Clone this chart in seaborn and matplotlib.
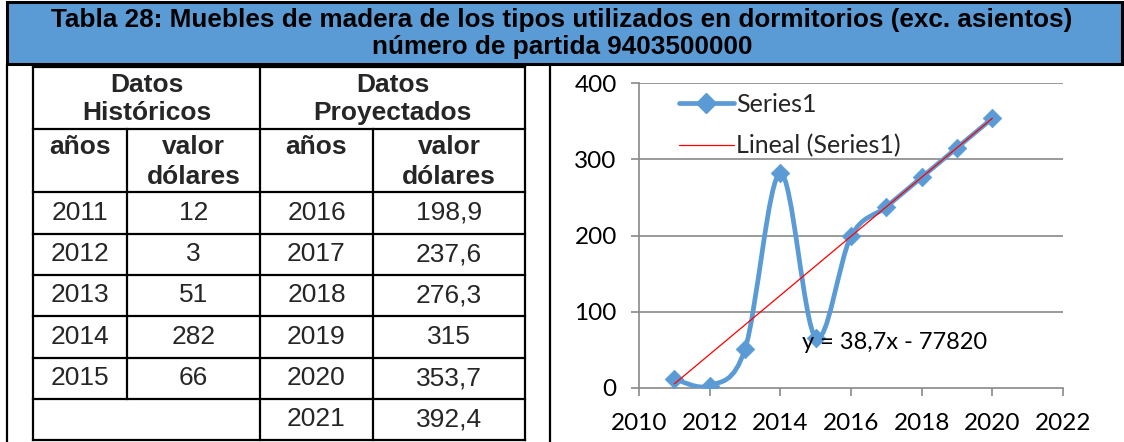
import numpy as np
import pandas as pd
import matplotlib
matplotlib.use("Agg")
import matplotlib.pyplot as plt
from matplotlib.path import Path
from matplotlib.patches import PathPatch, Rectangle
from matplotlib.lines import Line2D
import seaborn as sns

# ---------------- data ----------------
title_lines = ["Tabla 28: Muebles de madera de los tipos utilizados en dormitorios (exc. asientos)",
               "número de partida 9403500000"]
hist_years = [2011, 2012, 2013, 2014, 2015]
hist_values = ["12", "3", "51", "282", "66"]
proj_years = [2016, 2017, 2018, 2019, 2020, 2021]
proj_values = ["198,9", "237,6", "276,3", "315", "353,7", "392,4"]
chart_years = [2011, 2012, 2013, 2014, 2015, 2016, 2017, 2018, 2019, 2020]
chart_values = [12, 3, 51, 282, 66, 198.9, 237.6, 276.3, 315, 353.7]
series_name = "Series1"
trend_name = "Lineal (Series1)"
equation = "y = 38,7x - 77820"
x_ticks = [2010, 2012, 2014, 2016, 2018, 2020, 2022]
y_ticks = [0, 100, 200, 300, 400]

BLUE = "#5B9BD5"
RED = "#FF0000"
GRID = "#898989"

sns.set_theme(style="white")
plt.rcParams["font.family"] = ["Liberation Sans", "DejaVu Sans"]

W, H = 1124, 442
fig = plt.figure(figsize=(W / 100, H / 100), dpi=100)

# background axes in pixel coordinates for frame + table
bg = fig.add_axes([0, 0, 1, 1])
bg.set_xlim(0, W)
bg.set_ylim(H, 0)
bg.axis("off")

# title bar
bg.add_patch(Rectangle((7, 2), 1115, 62, facecolor=BLUE, edgecolor="black", lw=2.2))
bg.text(W / 2, 20, title_lines[0], ha="center", va="center", fontsize=18.8, fontweight="bold", color="black")
bg.text(W / 2, 47, title_lines[1], ha="center", va="center", fontsize=18.8, fontweight="bold", color="black")

# outer cell lines
lk = dict(color="black", lw=1.6, solid_capstyle="butt")
bg.plot([7, 7], [64, H], **lk)
bg.plot([550, 550], [64, H], **lk)

# table grid
xs = [33, 127, 260, 373, 525]
ys = [67, 129, 192, 233.5, 275, 316, 357.5, 399, 440]
tl = dict(color="black", lw=1.6, solid_capstyle="projecting")
for y in ys:
    bg.plot([xs[0], xs[-1]], [y, y], **tl)
bg.plot([xs[0], xs[0]], [ys[0], ys[-1]], **tl)
bg.plot([xs[-1], xs[-1]], [ys[0], ys[-1]], **tl)
bg.plot([xs[2], xs[2]], [ys[0], ys[-1]], **tl)
bg.plot([xs[1], xs[1]], [ys[1], ys[-2]], **tl)
bg.plot([xs[3], xs[3]], [ys[1], ys[-1]], **tl)

fs_t = 19
bg.text((xs[0] + xs[2]) / 2, (ys[0] + ys[1]) / 2 + 1, "Datos\nHistóricos", ha="center", va="center",
        fontsize=fs_t, fontweight="bold", linespacing=1.2)
bg.text((xs[2] + xs[4]) / 2, (ys[0] + ys[1]) / 2 + 1, "Datos\nProyectados", ha="center", va="center",
        fontsize=fs_t, fontweight="bold", linespacing=1.2)
for (a, b), lab in zip([(0, 1), (1, 2), (2, 3), (3, 4)], ["años", "valor\ndólares", "años", "valor\ndólares"]):
    bg.text((xs[a] + xs[b]) / 2, ys[1] + 6, lab, ha="center", va="top",
            fontsize=fs_t, fontweight="bold", linespacing=1.3)
for i, (yr, v) in enumerate(zip(hist_years, hist_values)):
    yc = (ys[2 + i] + ys[3 + i]) / 2
    bg.text((xs[0] + xs[1]) / 2, yc, str(yr), ha="center", va="center", fontsize=fs_t)
    bg.text((xs[1] + xs[2]) / 2, yc, v, ha="center", va="center", fontsize=fs_t)
for i, (yr, v) in enumerate(zip(proj_years, proj_values)):
    yc = (ys[2 + i] + ys[3 + i]) / 2
    bg.text((xs[2] + xs[3]) / 2, yc, str(yr), ha="center", va="center", fontsize=fs_t)
    bg.text((xs[3] + xs[4]) / 2, yc, v, ha="center", va="center", fontsize=fs_t)

# ---------------- chart ----------------
ax_l, ax_r, ax_t, ax_b = 639, 1063, 83, 388
ax = fig.add_axes([ax_l / W, (H - ax_b) / H, (ax_r - ax_l) / W, (ax_b - ax_t) / H])
ax.set_facecolor("none")
cfont = ["Lato", "DejaVu Sans"]

df = pd.DataFrame({"year": chart_years, "value": chart_values})

# smoothed series line (Bezier through the data points)
px = np.array(chart_years, dtype=float)
py = np.array(chart_values, dtype=float)
P = np.column_stack([px, py])
verts = [P[0]]
codes = [Path.MOVETO]
n = len(P)
for i in range(n - 1):
    p0 = P[i - 1] if i > 0 else P[i]
    p1, p2 = P[i], P[i + 1]
    p3 = P[i + 2] if i + 2 < n else P[i + 1]
    c1 = p1 + (p2 - p0) / 6.0
    c2 = p2 - (p3 - p1) / 6.0
    verts += [c1, c2, p2]
    codes += [Path.CURVE4] * 3
ax.add_patch(PathPatch(Path(verts, codes), facecolor="none", edgecolor=BLUE, lw=3.4,
                       capstyle="round", joinstyle="round", zorder=3))
sns.scatterplot(data=df, x="year", y="value", marker="D", s=90, color=BLUE,
                edgecolor=BLUE, linewidth=0.5, zorder=4, ax=ax, legend=False)
sns.regplot(data=df, x="year", y="value", scatter=False, ci=None, truncate=True,
            line_kws=dict(color=RED, lw=0.9, zorder=5), ax=ax)

ax.set_xlim(x_ticks[0], x_ticks[-1])
ax.set_ylim(y_ticks[0], y_ticks[-1])
ax.set_xticks(x_ticks)
ax.set_yticks(y_ticks)
ax.set_xlabel("")
ax.set_ylabel("")
ax.grid(False)
for yv in y_ticks[1:]:
    ax.axhline(yv, color=GRID, lw=1.2, zorder=1)
for s in ["top", "right"]:
    ax.spines[s].set_visible(False)
for s in ["left", "bottom"]:
    ax.spines[s].set_color(GRID)
    ax.spines[s].set_linewidth(1.2)
ax.tick_params(axis="both", which="both", direction="out", length=6, width=1.2, color=GRID,
               labelsize=17.5, labelcolor="black", bottom=True, left=True)
ax.tick_params(axis="y", pad=10)
ax.tick_params(axis="x", pad=12)
for lab in ax.get_xticklabels() + ax.get_yticklabels():
    lab.set_family(cfont)

ax.text(2014.6, 60, equation, fontsize=17, family=cfont, color="black", va="center", ha="left", zorder=6)

handles = [Line2D([0], [0], color=BLUE, lw=3.4, marker="D", markersize=10),
           Line2D([0], [0], color=RED, lw=0.9)]
ax.legend(handles, [series_name, trend_name], loc="upper left", bbox_to_anchor=(0.07, 1.0),
          frameon=False, prop={"family": cfont, "size": 18}, handlelength=2.2,
          handletextpad=0.1, labelspacing=0.72, borderaxespad=0.0)

fig.savefig("out.png", dpi=100)
